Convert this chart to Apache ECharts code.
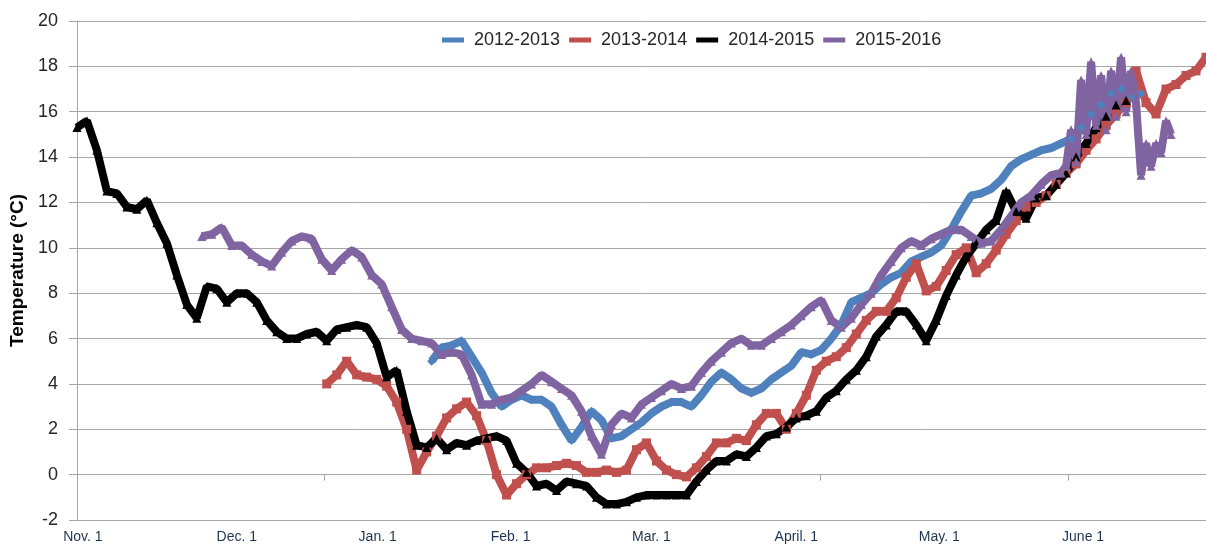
<!DOCTYPE html>
<html>
<head>
<meta charset="utf-8">
<script src="https://cdn.jsdelivr.net/npm/echarts@6/dist/echarts.min.js"></script>
<style>
html, body { margin: 0; padding: 0; background: #fff; }
#chart { width: 1206px; height: 548px; }
</style>
</head>
<body>
<div id="chart"></div>
<script>
// x = record index of the logger sheet, one reading kept every 2 records
const seasons = ['2012-2013', '2013-2014', '2014-2015', '2015-2016'];

const xLabelPos = [1.2, 32, 60.2, 86.8, 115, 144, 172.6, 201.4];
const xLabelText = ['Nov. 1', 'Dec. 1', 'Jan. 1', 'Feb. 1', 'Mar. 1', 'April. 1', 'May. 1', 'June 1'];
const zeroTickPos = [0, 49.6, 99.2, 148.8, 198.4];

const start1213 = 71;
const temp1213 = [
  5.0, 5.6, 5.7, 5.9, 5.2, 4.5, 3.6, 3.0, 3.3, 3.5,
  3.3, 3.3, 3.0, 2.2, 1.5, 2.1, 2.8, 2.4, 1.6, 1.7,
  2.0, 2.3, 2.7, 3.0, 3.2, 3.2, 3.0, 3.5, 4.1, 4.5,
  4.2, 3.8, 3.6, 3.8, 4.2, 4.5, 4.8, 5.4, 5.3, 5.5,
  6.0, 6.6, 7.6, 7.8, 8.0, 8.4, 8.7, 8.9, 9.4, 9.6,
  9.8, 10.1, 10.8, 11.6, 12.3, 12.4, 12.6, 13.0, 13.6, 13.9,
  14.1, 14.3, 14.4, 14.6, 14.8, 15.3, 15.9, 16.3, 16.8, 17.0,
  16.6, 16.8
];

const start1314 = 50;
const temp1314 = [
  4.0, 4.4, 5.0, 4.4, 4.3, 4.2, 3.9, 3.2, 2.0, 0.2,
  1.0, 1.7, 2.5, 2.9, 3.2, 2.6, 1.5, 0.0, -0.9, -0.4,
  0.0, 0.3, 0.3, 0.4, 0.5, 0.4, 0.1, 0.1, 0.2, 0.1,
  0.2, 1.1, 1.4, 0.6, 0.2, 0.0, -0.1, 0.3, 0.8, 1.4,
  1.4, 1.6, 1.5, 2.2, 2.7, 2.7, 2.0, 2.7, 3.5, 4.6,
  5.0, 5.2, 5.6, 6.2, 6.8, 7.2, 7.2, 7.8, 8.7, 9.3,
  8.1, 8.3, 9.0, 9.7, 10.0, 8.9, 9.3, 9.9, 10.6, 11.2,
  11.8, 12.0, 12.3, 12.8, 13.3, 13.7, 14.3, 14.8, 15.4, 15.9,
  16.4, 17.8, 16.4, 15.9, 17.0, 17.2, 17.6, 17.8, 18.4
];

const start1415 = 0;
const temp1415 = [
  15.3, 15.6, 14.3, 12.5, 12.4, 11.8, 11.7, 12.1, 11.1, 10.2,
  8.8, 7.5, 6.9, 8.3, 8.2, 7.6, 8.0, 8.0, 7.6, 6.8,
  6.3, 6.0, 6.0, 6.2, 6.3, 5.9, 6.4, 6.5, 6.6, 6.5,
  5.8, 4.3, 4.6, 2.8, 1.3, 1.2, 1.6, 1.1, 1.4, 1.3,
  1.5, 1.6, 1.7, 1.5, 0.5, 0.1, -0.5, -0.4, -0.7, -0.3,
  -0.4, -0.5, -1.0, -1.3, -1.3, -1.2, -1.0, -0.9, -0.9, -0.9,
  -0.9, -0.9, -0.3, 0.2, 0.6, 0.6, 0.9, 0.8, 1.2, 1.7,
  1.8, 2.1, 2.5, 2.6, 2.8, 3.4, 3.7, 4.2, 4.6, 5.2,
  6.1, 6.6, 7.2, 7.2, 6.6, 5.9, 6.8, 7.9, 8.8, 9.6,
  10.2, 10.8, 11.2, 12.5, 11.6, 11.3, 12.2, 12.3, 12.8, 13.3,
  14.0, 14.6, 15.3, 15.8, 16.3, 16.5
];

const start1516 = 25;
const temp1516 = [
  10.5, 10.6, 10.9, 10.1, 10.1, 9.7, 9.4, 9.2, 9.8, 10.3,
  10.5, 10.4, 9.5, 9.0, 9.5, 9.9, 9.6, 8.8, 8.4, 7.4,
  6.4, 6.0, 5.9, 5.8, 5.3, 5.4, 5.3, 4.4, 3.1, 3.1,
  3.3, 3.4, 3.7, 4.0, 4.4, 4.1, 3.8, 3.5, 2.8, 1.7,
  0.9, 2.2, 2.7, 2.5, 3.1, 3.4, 3.7, 4.0, 3.8, 3.9,
  4.5, 5.0, 5.4, 5.8, 6.0, 5.7, 5.7, 6.0, 6.3, 6.6,
  7.0, 7.4, 7.7, 6.8, 6.5, 6.9, 7.5, 8.0, 8.8, 9.4,
  10.0, 10.3, 10.1, 10.4, 10.6, 10.8, 10.8, 10.5, 10.2, 10.3,
  10.8, 11.4, 12.0, 12.3, 12.8, 13.2, 13.3
];
// June 2016 was very noisy, kept every record
const start1516June = 198;
const temp1516June = [
  13.6, 15.2, 13.8, 17.4, 15.0, 18.2, 15.4, 17.6, 15.2, 17.8,
  15.8, 18.4, 16.0, 17.8, 16.4, 13.2, 14.6, 13.6, 14.6, 14.2,
  15.6, 15.0
];

const font = "'Liberation Sans', Arial, sans-serif";

function pairs(start, values, step) {
  return values.map((v, i) => [start + step * i, v]);
}

function season(name, color, symbol, data) {
  return {
    name: name,
    type: 'line',
    data: data,
    symbol: symbol,
    symbolSize: 9,
    showAllSymbol: true,
    lineStyle: { color: color, width: 8 },
    itemStyle: { color: color },
    emphasis: { disabled: true }
  };
}

const myChart = echarts.init(document.getElementById('chart'));
myChart.setOption({
  animation: false,
  grid: { left: 76, top: 21, width: 1130, height: 499 },
  legend: {
    left: 437,
    top: 26,
    itemWidth: 22,
    itemHeight: 5,
    itemGap: 9,
    icon: 'rect',
    textStyle: { fontFamily: font, fontSize: 18, color: '#262626', padding: [0, 0, 0, 5] },
    data: seasons
  },
  xAxis: [{
    type: 'value',
    min: 0,
    max: 226,
    axisLine: { show: false, onZero: false },
    axisTick: { show: false },
    splitLine: { show: false },
    axisLabel: {
      customValues: xLabelPos,
      margin: 10,
      fontFamily: font,
      fontSize: 14,
      color: '#1f3350',
      formatter: function (v) {
        const i = xLabelPos.indexOf(v);
        return i >= 0 ? xLabelText[i] : '';
      }
    }
  }, {
    type: 'value',
    min: 0,
    max: 226,
    position: 'bottom',
    axisLine: { show: true, onZero: true, lineStyle: { color: '#a6a6a6', width: 1 } },
    axisTick: { show: true, customValues: zeroTickPos, length: 6, lineStyle: { color: '#a6a6a6' } },
    axisLabel: { show: false },
    splitLine: { show: false }
  }],
  yAxis: {
    type: 'value',
    min: -2,
    max: 20,
    interval: 2,
    name: 'Temperature (°C)',
    nameLocation: 'middle',
    nameGap: 38,
    nameTextStyle: { fontFamily: font, fontSize: 19, fontWeight: 'bold', color: '#000' },
    axisLine: { show: true, lineStyle: { color: '#a6a6a6', width: 1 } },
    axisTick: { show: true, length: 8, lineStyle: { color: '#a6a6a6' } },
    splitLine: { lineStyle: { color: '#a6a6a6', width: 1 } },
    axisLabel: { margin: 19, fontFamily: font, fontSize: 18, color: '#262626' }
  },
  series: [
    season(seasons[0], '#4f81bd', 'diamond', pairs(start1213, temp1213, 2)),
    season(seasons[1], '#c0504d', 'rect', pairs(start1314, temp1314, 2)),
    season(seasons[2], '#000000', 'triangle', pairs(start1415, temp1415, 2)),
    season(seasons[3], '#8064a2', 'triangle',
      pairs(start1516, temp1516, 2).concat(pairs(start1516June, temp1516June, 1)))
  ]
});
</script>
</body>
</html>
